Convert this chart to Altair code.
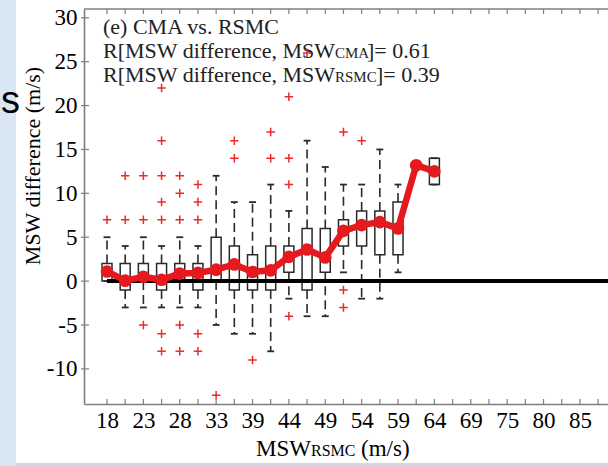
import altair as alt
import pandas as pd

# ---------------- data ----------------
cat_ms = [18, 21, 23, 26, 28, 31, 33, 36, 39, 41, 44, 46, 49, 51,
          54, 57, 59, 62, 64, 67, 69, 72, 75, 77, 80, 82, 85, 87]
label_idx = list(range(0, 28, 2))

box_idx = list(range(19))
box_q1 = [0, -1, 0, -1, 0, -1, 0, -1, -1, -1, 1, -1, 1, 4, 4, 3, 3, 13, 11]
box_q3 = [2, 2, 2, 2, 2, 2, 5, 4, 3, 4, 4, 6, 6, 7, 8, 8, 9, 13, 14]
box_lo = [0, -3, -3, -3, -3, -3, -5, -6, -6, -8, -2, -4, -4, 1, -2, -2, 1, 13, 11]
box_hi = [5, 4, 5, 4, 5, 4, 12, 9, 9, 11, 8, 16, 13, 11, 11, 15, 11, 13, 14]
mean_vals = [1.1, 0.05, 0.5, 0.15, 0.86, 0.93, 1.3, 1.9, 1.04, 1.23, 2.76,
             3.6, 2.7, 5.73, 6.38, 6.72, 6.0, 13.2, 12.5]

out_idx = [0,
           1, 1,
           2, 2, 2,
           3, 3, 3, 3, 3, 3, 3,
           4, 4, 4, 4, 4,
           5, 5, 5, 5, 5,
           6,
           7, 7,
           8,
           9, 9,
           10, 10, 10, 10,
           11,
           13, 13, 13,
           14]
out_vals = [7,
            12, 7,
            12, 7, -5,
            22, 16, 12, 9, 7, -6, -8,
            12, 10, 7, -5, -8,
            11, 9, 7, -6, -8,
            -13,
            16, 14,
            -9,
            17, 14,
            21, 14, 11, -4,
            26,
            17, -1, -3,
            16]

y_ticks = [-10, -5, 0, 5, 10, 15, 20, 25, 30]

# ---------------- layout ----------------
W, H = 524, 395
PADL, PADT = 84, 9
XMIN, XMAX = -0.99, 27.27
SERIF = "Liberation Serif"
RED = "#e6191e"
OUTRED = "#ee2a24"
BOXC = "#2a2a2a"
AXC = "#7f7f7f"

xs = alt.Scale(domain=[XMIN, XMAX], nice=False, zero=False)
ys = alt.Scale(domain=[-14, 31], nice=False, zero=False)

boxes = pd.DataFrame({"idx": box_idx, "q1": box_q1, "q3": box_q3,
                      "lo": box_lo, "hi": box_hi, "mean": mean_vals})
outl = pd.DataFrame({"idx": out_idx, "v": out_vals})
cats = pd.DataFrame({"idx": list(range(len(cat_ms))), "ms": cat_ms})
yt = pd.DataFrame({"v": y_ticks})
one = pd.DataFrame({"a": [0]})

label_arr = "[" + ",".join("'%d'" % m for m in cat_ms) + "]"

# background pieces (left blue strip, bottom strip, stray letter)
bg_left = alt.Chart(one).mark_rect(color="#d9e6f4").encode(
    x=alt.value(-PADL), x2=alt.value(16 - PADL),
    y=alt.value(-PADT), y2=alt.value(466 - PADT))
bg_bottom = alt.Chart(one).mark_rect(color="#cdd9e8").encode(
    x=alt.value(16 - PADL), x2=alt.value(W),
    y=alt.value(463 - PADT), y2=alt.value(466 - PADT))
stray = alt.Chart(one).mark_text(text="s", font="Liberation Sans", fontSize=38,
                                 align="left", baseline="alphabetic",
                                 color="black").encode(
    x=alt.value(1 - PADL), y=alt.value(113 - PADT))

# axes carrier
axes = alt.Chart(cats).mark_point(opacity=0).encode(
    x=alt.X("idx:Q", scale=xs,
            axis=alt.Axis(values=label_idx, labelExpr=label_arr + "[datum.value]",
                          ticks=False, grid=False, title=None, domainColor=AXC,
                          domainWidth=1.6, labelFont=SERIF, labelFontSize=23,
                          labelColor="black", labelPadding=5, labelFlush=False)),
    y=alt.Y("ms:Q", scale=ys,
            axis=alt.Axis(values=y_ticks, labelExpr="'' + datum.value",
                          ticks=False, grid=False, title=None,
                          domainColor=AXC, domainWidth=1.6, labelFont=SERIF,
                          labelFontSize=23, labelColor="black", labelPadding=7)),
)

# frame top + inward ticks
top_frame = alt.Chart(one).mark_rule(color=AXC, strokeWidth=1.6).encode(
    x=alt.value(0), x2=alt.value(W), y=alt.value(0))
xt_bottom = alt.Chart(cats).mark_rule(color=AXC, strokeWidth=1.2).encode(
    x=alt.X("idx:Q", scale=xs), y=alt.value(H), y2=alt.value(H - 5))
xt_top = alt.Chart(cats).mark_rule(color=AXC, strokeWidth=1.2).encode(
    x=alt.X("idx:Q", scale=xs), y=alt.value(0), y2=alt.value(5))
yt_left = alt.Chart(yt).mark_rule(color=AXC, strokeWidth=1.2).encode(
    y=alt.Y("v:Q", scale=ys), x=alt.value(-3), x2=alt.value(5))

# boxplot pieces
box_rect = alt.Chart(boxes).mark_bar(size=10, fill="white", fillOpacity=0,
                                     stroke=BOXC, strokeWidth=1.5).encode(
    x=alt.X("idx:Q", scale=xs), y=alt.Y("q1:Q", scale=ys), y2="q3:Q")
wh_up = alt.Chart(boxes).mark_rule(color=BOXC, strokeWidth=1.6,
                                   strokeDash=[9, 5]).encode(
    x=alt.X("idx:Q", scale=xs), y=alt.Y("q3:Q", scale=ys), y2="hi:Q")
wh_dn = alt.Chart(boxes).mark_rule(color=BOXC, strokeWidth=1.6,
                                   strokeDash=[9, 5]).encode(
    x=alt.X("idx:Q", scale=xs), y=alt.Y("q1:Q", scale=ys), y2="lo:Q")
cap_up = alt.Chart(boxes).transform_calculate(
    xa="datum.idx - 0.19", xb="datum.idx + 0.19").mark_rule(
    color=BOXC, strokeWidth=1.8).encode(
    x=alt.X("xa:Q", scale=xs), x2="xb:Q", y=alt.Y("hi:Q", scale=ys))
cap_dn = alt.Chart(boxes).transform_calculate(
    xa="datum.idx - 0.19", xb="datum.idx + 0.19").mark_rule(
    color=BOXC, strokeWidth=1.8).encode(
    x=alt.X("xa:Q", scale=xs), x2="xb:Q", y=alt.Y("lo:Q", scale=ys))

zero_line = alt.Chart(one).mark_rule(color="black", strokeWidth=4).encode(
    x=alt.datum(0, scale=xs), x2=alt.value(W), y=alt.datum(0, scale=ys))

mean_line = alt.Chart(boxes).mark_line(color=RED, strokeWidth=6.5).encode(
    x=alt.X("idx:Q", scale=xs), y=alt.Y("mean:Q", scale=ys))
mean_pts = alt.Chart(boxes).mark_circle(color=RED, opacity=1, size=160).encode(
    x=alt.X("idx:Q", scale=xs), y=alt.Y("mean:Q", scale=ys))

# text
def txt(s, x, y, size=22, **kw):
    return alt.Chart(one).mark_text(text=s, font=SERIF, fontSize=size,
                                    align=kw.pop("align", "left"),
                                    baseline=kw.pop("baseline", "alphabetic"),
                                    color=kw.pop("color", "#222222"), **kw).encode(
        x=alt.value(x), y=alt.value(y))

ann = [
    txt("(e) CMA vs. RSMC", 103 - PADL, 34 - PADT),
    txt("R[MSW difference, MSW", 103 - PADL, 58 - PADT),
    txt("CMA", 335 - PADL, 58 - PADT, size=15),
    txt("]= 0.61", 367 - PADL, 58 - PADT),
    txt("R[MSW difference, MSW", 103 - PADL, 82 - PADT),
    txt("RSMC", 335 - PADL, 82 - PADT, size=15),
    txt("]= 0.39", 376 - PADL, 82 - PADT),
    # axis titles
    txt("MSW", 256 - PADL, 456 - PADT, size=23, color="black"),
    txt("RSMC", 311 - PADL, 456 - PADT, size=16, color="black"),
    txt("(m/s)", 361 - PADL, 456 - PADT, size=23, color="black"),
    txt("MSW difference (m/s)", 33 - PADL, 166 - PADT, align="center",
        baseline="middle", angle=270, color="black"),
]

outliers = alt.Chart(outl).mark_point(shape="M-1,0L1,0M0,-1L0,1", filled=False,
                                      color=OUTRED, strokeWidth=1.5, size=72,
                                      opacity=1).encode(
    x=alt.X("idx:Q", scale=xs), y=alt.Y("v:Q", scale=ys))

chart = alt.layer(
    bg_left, bg_bottom, stray, axes, top_frame, xt_bottom, xt_top, yt_left,
    box_rect, wh_up, wh_dn, cap_up, cap_dn, zero_line, mean_line, mean_pts,
    *ann, outliers
).properties(
    width=W, height=H, autosize="none",
    padding={"left": PADL, "top": PADT, "right": 0, "bottom": 466 - PADT - H},
    background="white",
).configure_view(stroke=None)

chart.save("out.html", embed_options={"renderer": "svg", "actions": False})
